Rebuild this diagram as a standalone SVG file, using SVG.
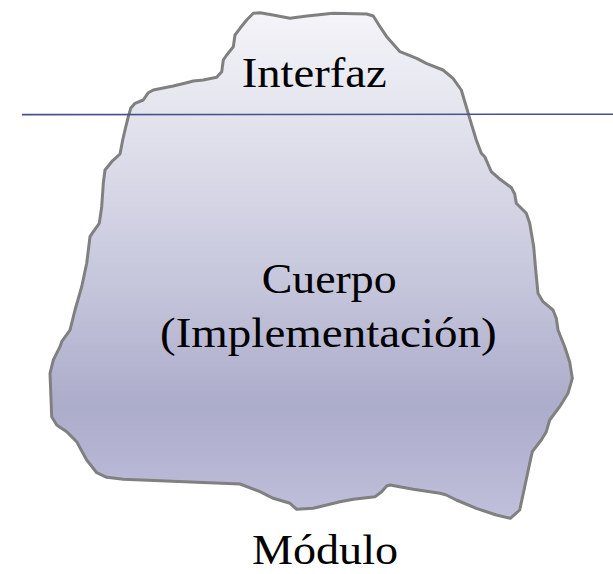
<svg xmlns="http://www.w3.org/2000/svg" width="613" height="574" viewBox="0 0 613 574">
<defs>
<linearGradient id="ice" x1="0" y1="12" x2="0" y2="519" gradientUnits="userSpaceOnUse">
<stop offset="0" stop-color="#f4f4f9"/>
<stop offset="0.2" stop-color="#e4e4ee"/>
<stop offset="0.5" stop-color="#c9c9de"/>
<stop offset="0.78" stop-color="#acaccb"/>
<stop offset="1" stop-color="#c0c0dc"/>
</linearGradient>
<style>
.lbl{font-family:"Liberation Serif","Times New Roman",serif;font-size:42px;fill:#000}
.outline{fill:url(#ice);stroke:#808080;stroke-width:3;stroke-linejoin:round}
.water{stroke:#4a4f90;stroke-width:1.6;fill:none}
</style>
</defs>
<g id="iceberg">
<path class="outline" d="M260,12.7 L273,15 L290,18.3 L307,16 L333,13.3 L366.7,14 L373.3,16 L380,26.7 L386.7,36.7 L400,51.7 L416.7,58.3 L426.3,63.3 L443,70 L453,78.3 L461.3,90 L466.3,106.7 L469.7,118.3 L476.3,140 L481.3,153.3 L484.7,156.7 L491.3,171.7 L499.7,179 L511.3,187.5 L514.7,194 L516.3,203.3 L526.3,213.3 L529.7,223.3 L533.7,246.7 L535.7,270 L538,293.3 L543,301.7 L553,310 L556.3,318.3 L558,330 L564.7,346.7 L569.7,362 L572.3,378.3 L568,393.3 L559.7,406.7 L549.7,420 L546.3,431.7 L541.3,440 L532.3,451.7 L529.7,463.3 L524.7,486.7 L519.7,510 L510.3,518.3 L496.3,515 L476.3,508.3 L456.3,500 L446.3,495 L440,493.3 L413.3,489.3 L390,485 L386.7,486 L381.7,491.7 L375,496.7 L353.3,499.3 L340,501.7 L313.3,508.3 L296.7,509.3 L290,503.3 L273.3,498.3 L260,491.7 L240,484 L123.3,479.3 L106.7,477.3 L96.7,472.7 L86.7,460 L76.7,441.7 L66.7,431.7 L56.7,425 L51.7,416.7 L50,373.3 L53.3,360 L60,346.7 L61.7,341.7 L70,330 L75,310 L81.7,286.7 L86.7,263.3 L90,236.7 L93.3,231.7 L99.3,223.3 L101.7,206.7 L103.3,183.3 L105,170 L111.7,161.7 L120,154 L122.7,140 L125,130 L128.3,116.7 L130.7,108.3 L135,103.3 L143.3,100 L148.3,92.7 L153.3,90 L173.3,86 L186.7,82.7 L193.3,81 L203.3,80 L216.7,77.3 L221.7,71.7 L223.3,60 L226.7,55 L233.3,46.7 L235,35 L240,28.3 L246.7,20 L253.3,13.3 Z"/>
</g>
<g id="connectors">
<line class="water" x1="22" y1="114.6" x2="613" y2="114.2"/>
</g>
<g id="interfaz">
<text class="lbl" x="241.7" y="87.3" textLength="145" lengthAdjust="spacingAndGlyphs">Interfaz</text>
</g>
<g id="cuerpo">
<text class="lbl" x="261.7" y="293.3" textLength="135" lengthAdjust="spacingAndGlyphs">Cuerpo</text>
<text class="lbl" x="160" y="346.5" textLength="336.7" lengthAdjust="spacingAndGlyphs">(Implementación)</text>
</g>
<g id="modulo">
<text class="lbl" x="252" y="564" textLength="146" lengthAdjust="spacingAndGlyphs">Módulo</text>
</g>
</svg>
